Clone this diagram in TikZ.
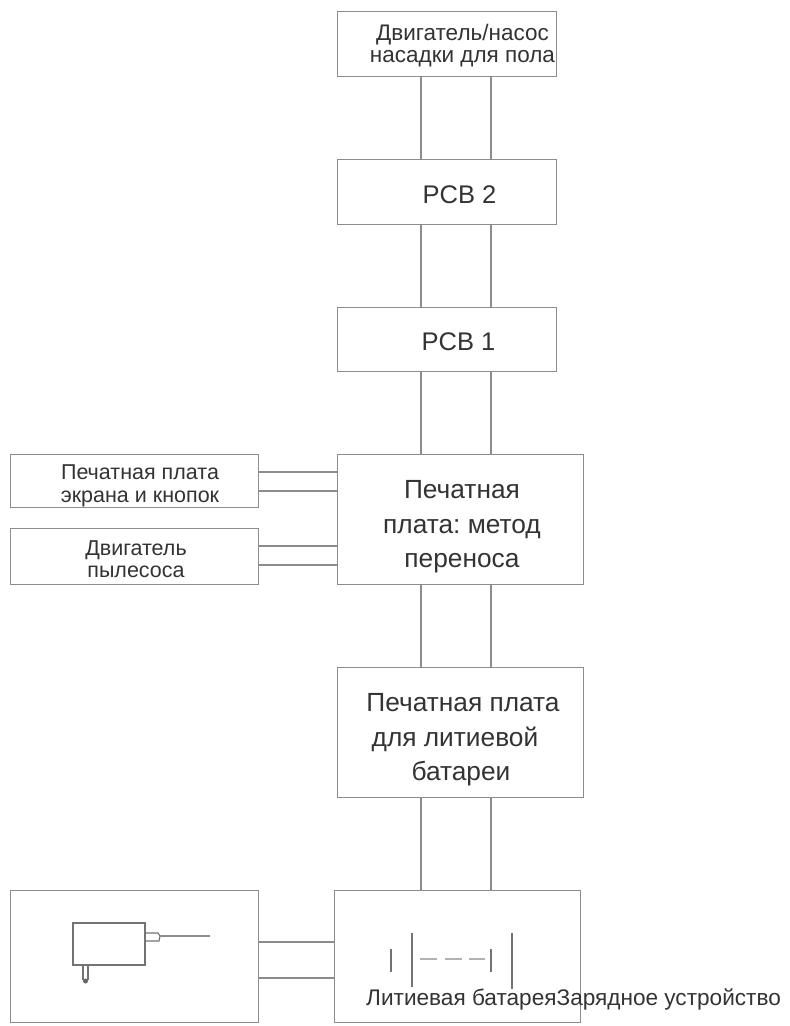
\documentclass[tikz,border=0pt]{standalone}
\usepackage{fontspec}
\setmainfont{Liberation Sans}
\frenchspacing
\tikzset{
    blockbox/.style={draw=black!45, line width=1.4pt, fill=white, inner sep=0pt, anchor=north west},
    blocktxt/.style={inner sep=0pt, align=center, text=black!80},
    wire/.style={draw=black!45, line width=1.4pt},
    thinwire/.style={draw=black!55, line width=1.1pt},
    smalltxt/.style={font=\fontsize{21.5}{22.5}\selectfont},
    toptxt/.style={font=\fontsize{22.5}{22}\selectfont},
    bigtxt/.style={font=\fontsize{26.3}{34.5}\selectfont}
}
\begin{document}
\begin{tikzpicture}[x=1pt, y=-1pt]
    \useasboundingbox (0, 0) rectangle (790, 1026);

    \node[blockbox, minimum width=219pt, minimum height=65pt] (pump) at (337, 11) {};
    \node[blockbox, minimum width=219pt, minimum height=65pt] (pcbtwo) at (337, 159) {};
    \node[blockbox, minimum width=219pt, minimum height=64pt] (pcbone) at (337, 307) {};
    \node[blockbox, minimum width=246pt, minimum height=130pt] (transfer) at (337, 454) {};
    \node[blockbox, minimum width=246pt, minimum height=130pt] (lipcb) at (337, 667) {};
    \node[blockbox, minimum width=246pt, minimum height=132pt] (battery) at (334, 890) {};
    \node[blockbox, minimum width=248pt, minimum height=132pt] (charger) at (10, 890) {};
    \node[blockbox, minimum width=248pt, minimum height=53pt] (screen) at (10, 454) {};
    \node[blockbox, minimum width=248pt, minimum height=56pt] (vacuum) at (10, 528) {};

    \foreach \x in {421, 491} {
        \draw[wire] (\x, 0 |- pump.south) -- (\x, 0 |- pcbtwo.north);
        \draw[wire] (\x, 0 |- pcbtwo.south) -- (\x, 0 |- pcbone.north);
        \draw[wire] (\x, 0 |- pcbone.south) -- (\x, 0 |- transfer.north);
        \draw[wire] (\x, 0 |- transfer.south) -- (\x, 0 |- lipcb.north);
        \draw[wire] (\x, 0 |- lipcb.south) -- (\x, 0 |- battery.north);
    }
    \foreach \y in {472, 491} \draw[wire] (screen.east |- 0, \y) -- (transfer.west |- 0, \y);
    \foreach \y in {546, 565} \draw[wire] (vacuum.east |- 0, \y) -- (transfer.west |- 0, \y);
    \foreach \y in {942, 978} \draw[wire] (charger.east |- 0, \y) -- (battery.west |- 0, \y);

    \node[blocktxt, toptxt] (pumptxt) at (462.5, 46) {Двигатель/насос\\насадки для пола};
    \node[blocktxt, font=\fontsize{25.5}{30}\selectfont, anchor=base] (pcbtwotxt) at (459.5, 203) {PCB 2};
    \node[blocktxt, font=\fontsize{25.5}{30}\selectfont, anchor=base] (pcbonetxt) at (458.5, 350) {PCB 1};
    \node[blocktxt, bigtxt] (transfertxt) at (462, 527) {Печатная\\плата: метод\\переноса};
    \node[blocktxt, bigtxt] (lipcbtxt) at (461, 740) {\hspace{4pt}Печатная плата\\\hspace{-12pt}для литиевой\\батареи};
    \node[blocktxt, smalltxt] (screentxt) at (140, 486) {Печатная плата\\экрана и кнопок};
    \node[blocktxt, smalltxt] (vacuumtxt) at (136, 559) {Двигатель\\пылесоса};

    % charger
    \draw[thinwire] (73, 923) rectangle (145, 965);
    \draw[thinwire] (145, 933) -- (158, 933) -- (160, 936) -- (159, 941) -- (145, 941);
    \draw[wire] (160, 936) -- (210, 936);
    \draw[thinwire] (83, 965) -- (83, 980) (88, 965) -- (88, 980);
    \fill[black!60] (85.5, 981) circle (2.5pt);

    % battery cells
    \draw[thinwire] (391, 949) -- (391, 972);
    \draw[thinwire] (412, 933) -- (412, 987);
    \draw[wire, draw=black!30, dash pattern=on 17pt off 7.5pt] (420, 959) -- (485, 959);
    \draw[thinwire] (491, 949) -- (491, 972);
    \draw[thinwire] (512, 933) -- (512, 989);

    \node[blocktxt, font=\fontsize{22.6}{24}\selectfont, anchor=base west] (batterytxt) at (366, 1005) {Литиевая батареяЗарядное устройство};
\end{tikzpicture}
\end{document}
